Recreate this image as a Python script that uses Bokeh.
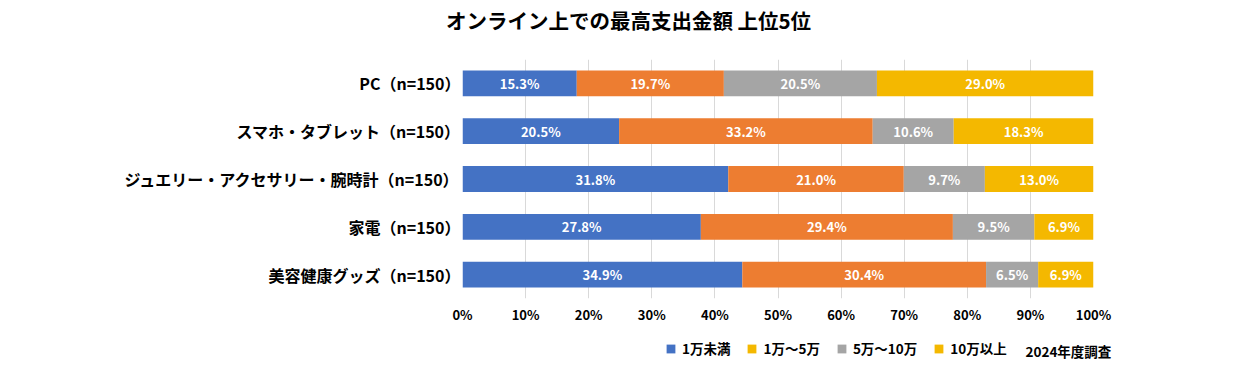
from bokeh.plotting import figure
from bokeh.layouts import column
from bokeh.models import (ColumnDataSource, FactorRange, Range1d, FixedTicker, NumeralTickFormatter,
                          Label, Legend, LegendItem)
from bokeh.core.properties import value
from bokeh.embed import file_html
from bokeh.resources import INLINE

# ---- data ----
title_text = "オンライン上での最高支出金額 上位5位"
categories = ["PC（n=150）", "スマホ・タブレット（n=150）", "ジュエリー・アクセサリー・腕時計（n=150）",
              "家電（n=150）", "美容健康グッズ（n=150）"]
series_names = ["1万未満", "1万～5万", "5万～10万", "10万以上"]
under_10k = [15.3, 20.5, 31.8, 27.8, 34.9]
from_10k_to_50k = [19.7, 33.2, 21.0, 29.4, 30.4]
from_50k_to_100k = [20.5, 10.6, 9.7, 9.5, 6.5]
over_100k = [29.0, 18.3, 13.0, 6.9, 6.9]
note_text = "2024年度調査"
tick_values = [0, 0.1, 0.2, 0.3, 0.4, 0.5, 0.6, 0.7, 0.8, 0.9, 1.0]

bar_colors = ["#4472C4", "#ED7D31", "#A5A5A5", "#F4B800"]
legend_colors = ["#4472C4", "#F4B800", "#A5A5A5", "#F4B800"]
FONT = "Noto Sans CJK JP"
W = 1234

series = [under_10k, from_10k_to_50k, from_50k_to_100k, over_100k]
keys = ["s0", "s1", "s2", "s3"]
totals = [sum(v) for v in zip(*series)]
data = {"cat": categories}
for k, s in zip(keys, series):
    data[k] = [v / t for v, t in zip(s, totals)]
source = ColumnDataSource(data)


def blank_fig(h):
    f = figure(width=W, height=h, output_backend="svg", toolbar_location=None,
               x_range=Range1d(0, W), y_range=Range1d(0, h), frame_align=False,
               min_border_left=0, min_border_right=0, min_border_top=0, min_border_bottom=0)
    f.axis.visible = False
    f.grid.grid_line_color = None
    f.outline_line_color = None
    return f


# ---- title ----
tf = blank_fig(40)
tf.add_layout(Label(x=628, y=21, text=title_text, text_font=FONT, text_font_style="bold",
                    text_font_size="20.5px", text_align="center", text_baseline="middle",
                    text_color="black"))

# ---- main chart ----
p = figure(width=W, height=298, output_backend="svg", toolbar_location=None,
           y_range=FactorRange(*reversed(categories)), x_range=Range1d(0, 1), frame_align=False,
           min_border_left=462, min_border_right=W - 1093, min_border_top=19, min_border_bottom=40)
p.outline_line_color = None

p.hbar_stack(keys, y="cat", height=0.54, color=bar_colors, source=source, line_color=None)

lx, ly, lt = [], [], []
for i, cat in enumerate(categories):
    start = 0.0
    for k, s in zip(keys, series):
        share = data[k][i]
        lx.append(start + share / 2)
        ly.append(cat)
        lt.append(f"{s[i]:.1f}%")
        start += share
p.text(x=lx, y=ly, text=lt, text_color="white", text_font=value(FONT), text_font_style="bold",
       text_font_size="13px", text_align="center", text_baseline="middle")

p.xaxis.ticker = FixedTicker(ticks=tick_values)
p.xaxis.formatter = NumeralTickFormatter(format="0%")
for ax in (p.xaxis, p.yaxis):
    ax.axis_line_color = None
    ax.major_tick_line_color = None
    ax.minor_tick_line_color = None
    ax.major_tick_out = 0
    ax.major_tick_in = 0
    ax.minor_tick_out = 0
    ax.minor_tick_in = 0
    ax.major_label_text_font = FONT
    ax.major_label_text_font_style = "bold"
    ax.major_label_text_color = "black"
p.xaxis.major_label_text_font_size = "13px"
p.xaxis.major_label_standoff = 6
p.yaxis.major_label_text_font_size = "16px"
p.yaxis.major_label_standoff = 2
p.xgrid.grid_line_color = "#D9D9D9"
p.xgrid.ticker = FixedTicker(ticks=tick_values)
p.ygrid.grid_line_color = None

# ---- legend row ----
lf = blank_fig(24)
items = []
for name, c in zip(series_names, legend_colors):
    # one point placed outside the visible range so only the legend swatch shows
    r = lf.hbar(y=[-50], left=[-50], right=[-40], height=1, color=c, line_color=None)
    items.append(LegendItem(label=name, renderers=[r]))
legend = Legend(items=items, orientation="horizontal", location=(665, 4),
                glyph_width=11, glyph_height=11, label_standoff=6, spacing=16, padding=0, margin=0,
                border_line_color=None, background_fill_alpha=0,
                label_text_font=FONT, label_text_font_style="bold", label_text_font_size="13.5px",
                label_height=16, label_text_color="black", label_text_baseline="middle")
lf.add_layout(legend, "center")
lf.add_layout(Label(x=1025, y=12, text=note_text, text_font=FONT, text_font_style="bold",
                    text_font_size="13.5px", text_align="left", text_baseline="middle",
                    text_color="black"))

layout = column(tf, p, lf, spacing=0)
open("out.html", "w").write(file_html(layout, INLINE))
